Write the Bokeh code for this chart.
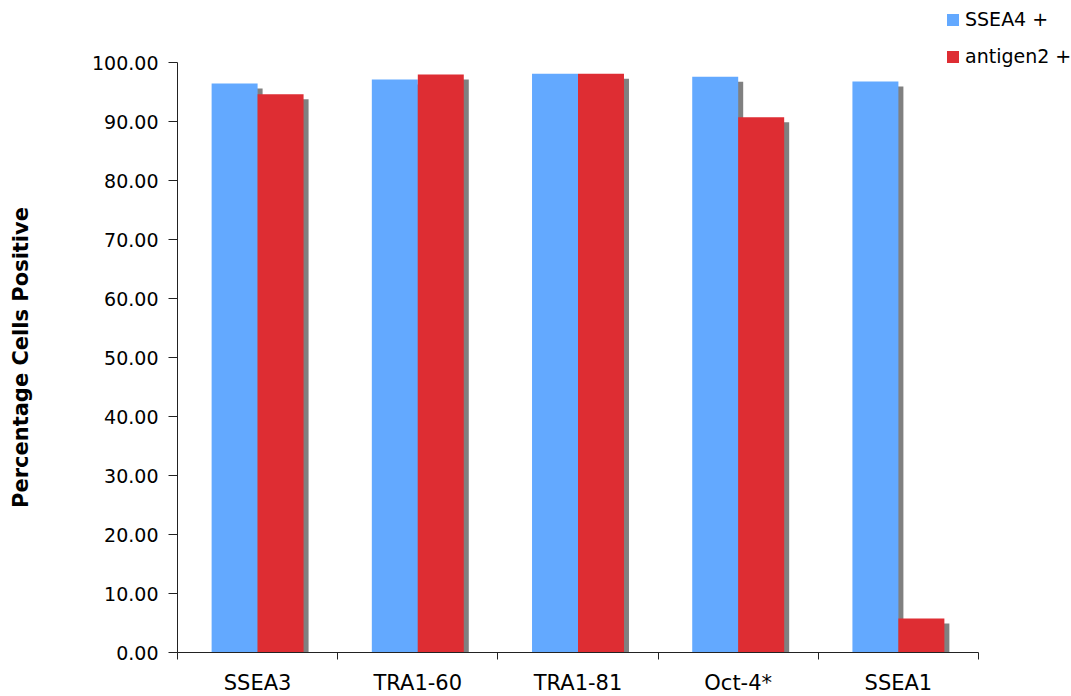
from bokeh.plotting import figure
from bokeh.models import FixedTicker, Legend, LegendItem, Range1d, LinearAxis
from bokeh.embed import file_html
from bokeh.resources import INLINE

categories = ["SSEA3", "TRA1-60", "TRA1-81", "Oct-4*", "SSEA1"]
ssea4_pos = [96.45, 97.10, 98.10, 97.60, 96.80]
antigen2_pos = [94.60, 97.95, 98.10, 90.70, 5.75]
y_ticks = [0, 10, 20, 30, 40, 50, 60, 70, 80, 90, 100]

BLUE = "#63a9ff"
RED = "#de2d33"
SHADOW = "#808080"
FONT = "DejaVu Sans"

W, H = 1071, 696
# plotting area inside the canvas (pixels)
left, right, top, bottom = 177, 978, 62, 652
n = len(categories)
ymax = 100
xs = (right - left) / n          # px per category
ys = (bottom - top) / ymax       # px per unit

p = figure(width=W, height=H, output_backend="svg", toolbar_location=None,
           x_axis_type=None, y_axis_type=None,
           x_range=Range1d(-left / xs, n + (W - right) / xs),
           y_range=Range1d(-(H - bottom) / ys, ymax + top / ys),
           min_border=0, min_border_left=0, min_border_right=0,
           min_border_top=0, min_border_bottom=0)
p.outline_line_color = None
p.background_fill_color = "white"
p.border_fill_color = "white"

centers = [i + 0.5 for i in range(n)]
bw = 0.287
dx = 5 / xs   # shadow shift
dy = 5 / ys   # shadow drop

xb = [c - bw / 2 for c in centers]
xr = [c + bw / 2 for c in centers]

p.vbar(x=[x + dx for x in xb], top=[v - dy for v in ssea4_pos], bottom=0, width=bw,
       fill_color=SHADOW, line_color=None)
rb = p.vbar(x=xb, top=ssea4_pos, bottom=0, width=bw, fill_color=BLUE, line_color=None)
p.vbar(x=[x + dx for x in xr], top=[v - dy for v in antigen2_pos], bottom=0, width=bw,
       fill_color=SHADOW, line_color=None)
rr = p.vbar(x=xr, top=antigen2_pos, bottom=0, width=bw, fill_color=RED, line_color=None)

# x axis: labels at centres, ticks at category boundaries
xaxis = LinearAxis(fixed_location=0, bounds=(0, n))
xaxis.ticker = FixedTicker(ticks=centers, minor_ticks=list(range(n + 1)))
xaxis.major_label_overrides = {c: lab for c, lab in zip(centers, categories)}
xaxis.major_tick_out = 0
xaxis.major_tick_in = 0
xaxis.minor_tick_out = 7
xaxis.minor_tick_in = 0
xaxis.minor_tick_line_color = "#222222"
xaxis.axis_line_color = "#222222"
xaxis.major_label_standoff = 11
xaxis.major_label_text_font = FONT
xaxis.major_label_text_font_size = "21px"
xaxis.major_label_text_color = "black"
p.add_layout(xaxis, "below")

yaxis = LinearAxis(fixed_location=0, bounds=(0, ymax))
yaxis.ticker = FixedTicker(ticks=y_ticks, minor_ticks=[])
yaxis.major_label_overrides = {t: f"{t:.2f}" for t in y_ticks}
yaxis.major_tick_out = 9
yaxis.major_tick_in = 0
yaxis.major_tick_line_color = "#222222"
yaxis.axis_line_color = "#222222"
yaxis.major_label_standoff = 10
yaxis.major_label_text_font = FONT
yaxis.major_label_text_font_size = "19px"
yaxis.major_label_text_color = "black"
yaxis.axis_label = "Percentage Cells Positive"
yaxis.axis_label_text_font = FONT
yaxis.axis_label_text_font_style = "bold"
yaxis.axis_label_text_font_size = "21px"
yaxis.axis_label_text_color = "black"
yaxis.axis_label_standoff = 56
p.add_layout(yaxis, "left")

legend = Legend(items=[LegendItem(label="SSEA4 +", renderers=[rb]),
                       LegendItem(label="antigen2 +", renderers=[rr])],
                location=(945, 629), orientation="vertical",
                padding=0, margin=0, spacing=15, glyph_width=15, glyph_height=15,
                label_height=22, label_standoff=5,
                border_line_color=None, background_fill_alpha=0,
                label_text_font=FONT, label_text_font_size="19px",
                label_text_color="black")
p.add_layout(legend, "center")

open("out.html", "w").write(file_html(p, INLINE))
